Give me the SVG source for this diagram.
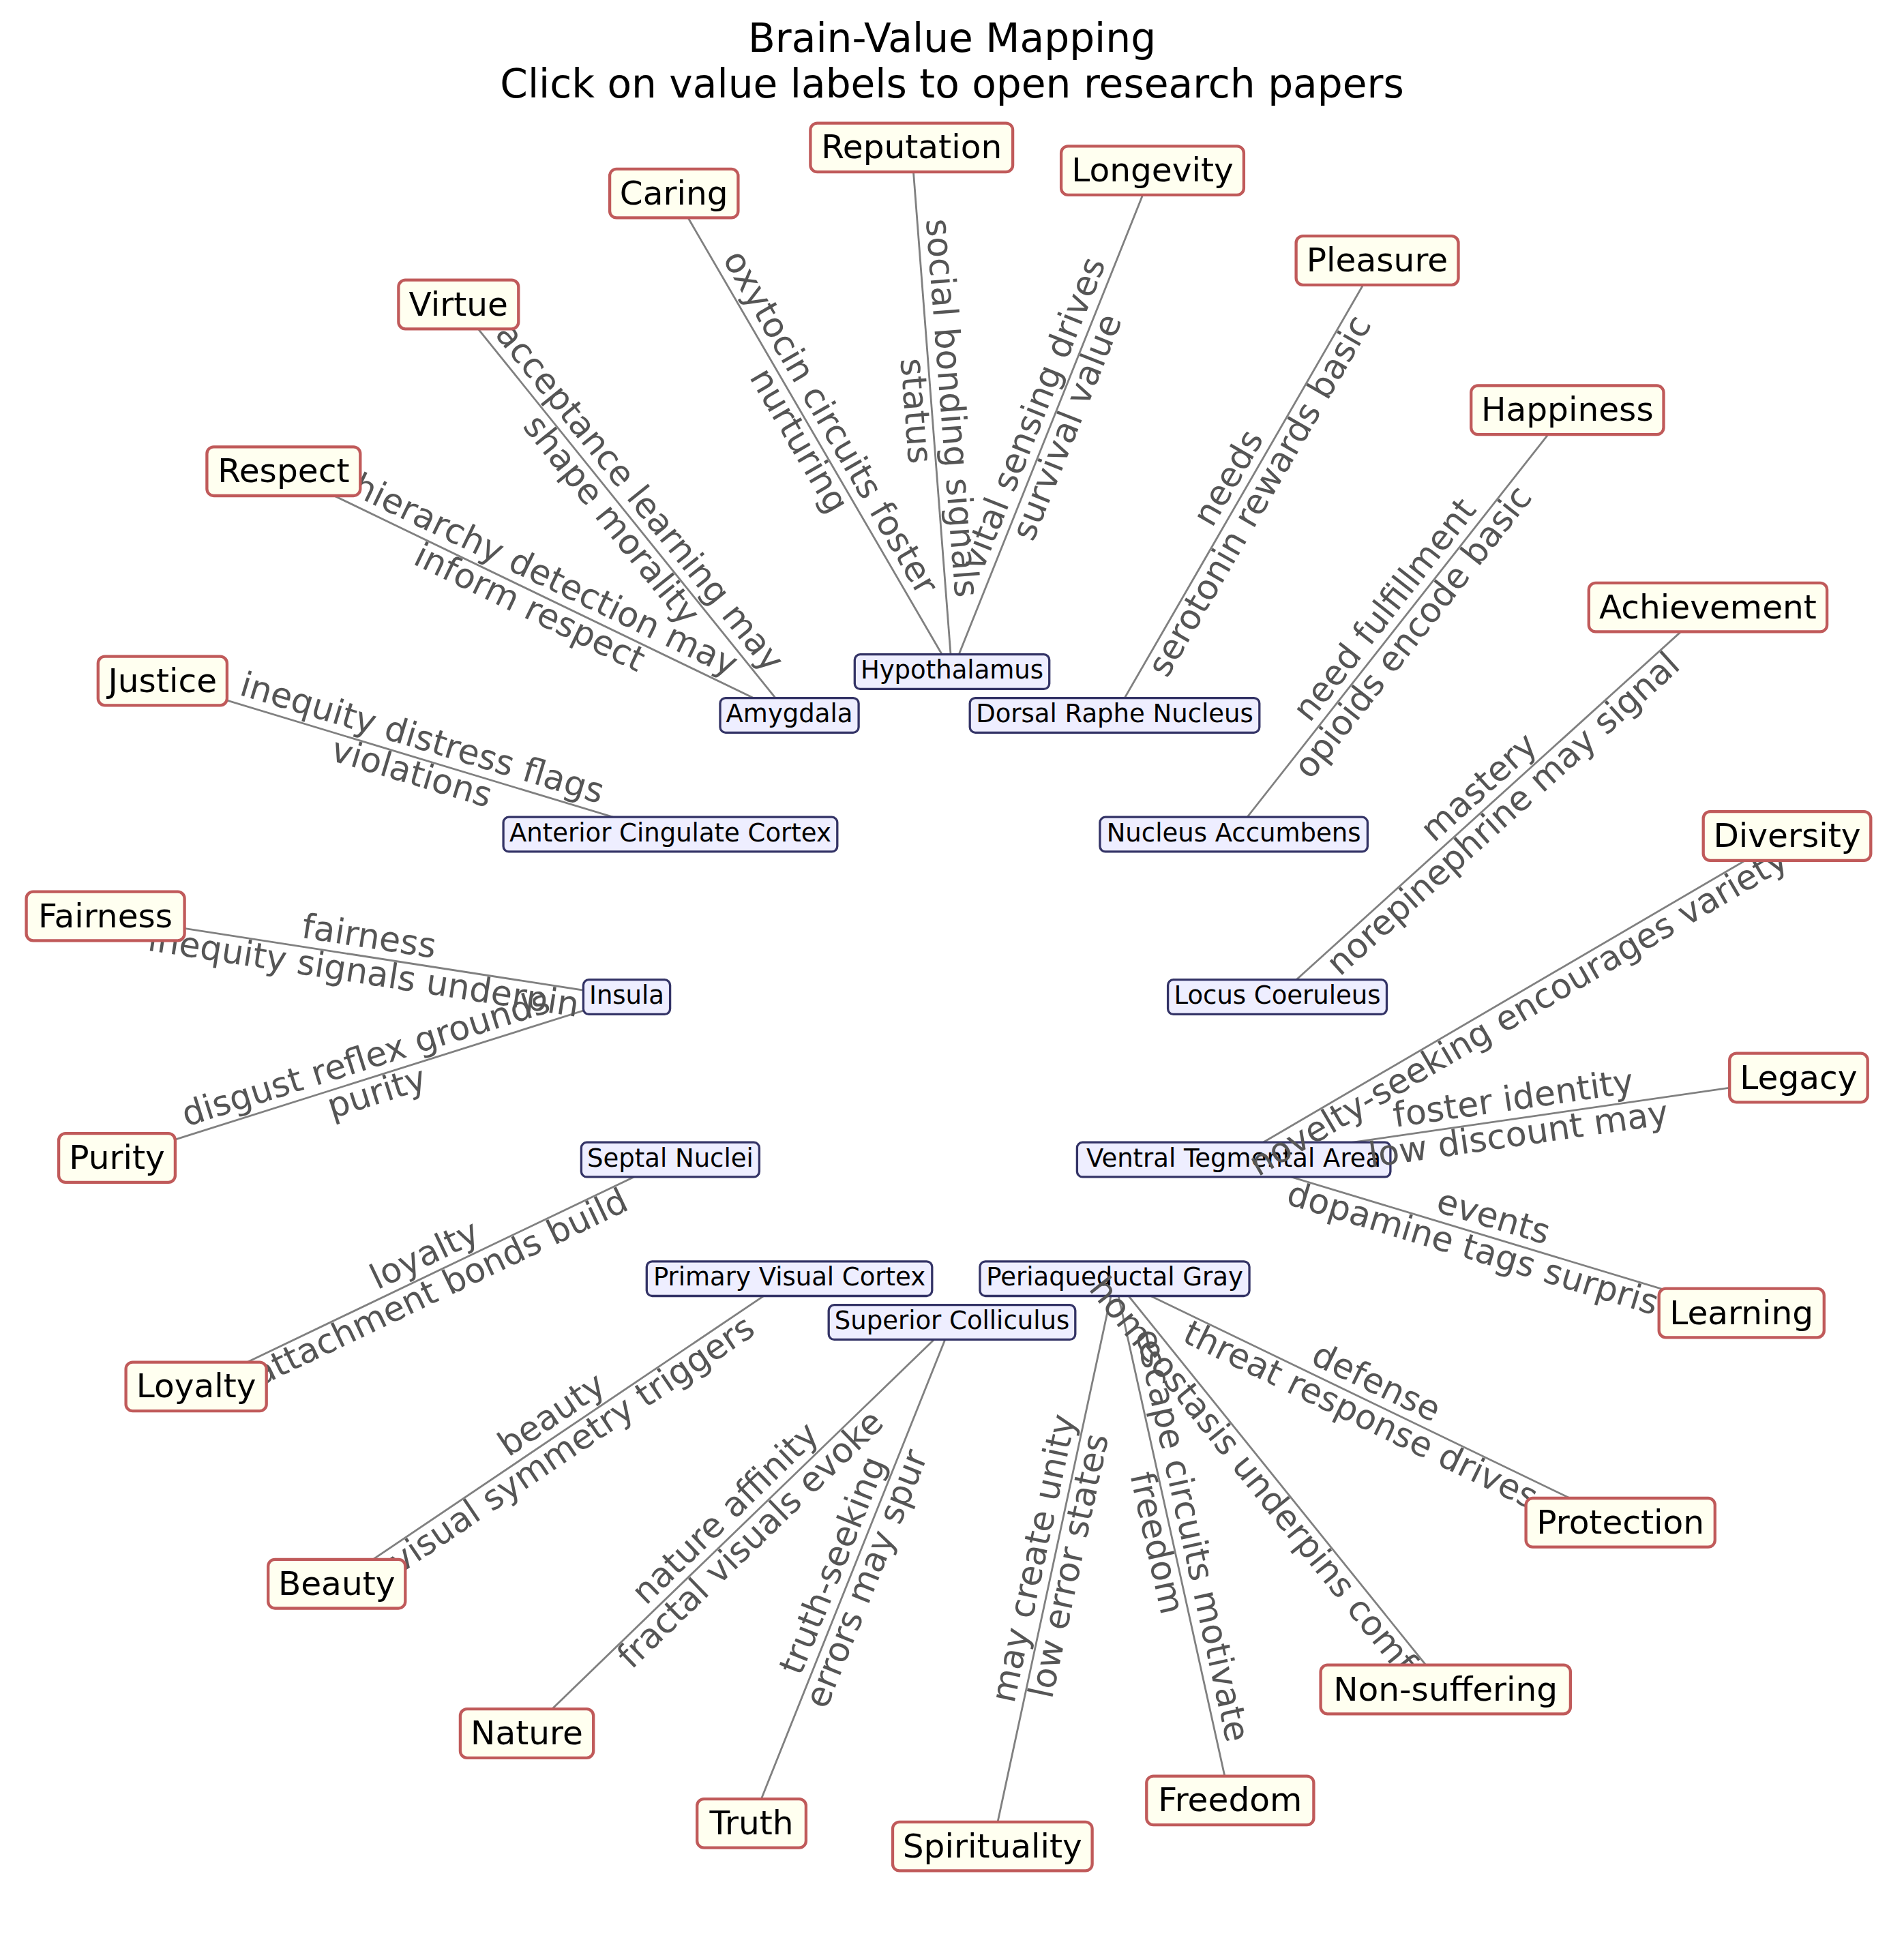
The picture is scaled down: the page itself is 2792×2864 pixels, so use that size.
<svg xmlns="http://www.w3.org/2000/svg" width="2792" height="2864" viewBox="0 0 2792 2864">
<style>
text{font-family:"DejaVu Sans","Liberation Sans",sans-serif;text-anchor:middle}
.title{font-size:58.2px;fill:#000}
.v rect{fill:#fffff0;stroke:#c05a5a;stroke-width:4.3}
.v text{font-size:48.6px;fill:#000}
.b rect{fill:#eeeeff;stroke:#333366;stroke-width:3.3}
.b text{font-size:37px;fill:#000}
#edges line{stroke:#808080;stroke-width:2.8}
#edge-labels text{font-size:50.5px;fill:#555555}
</style>
<rect width="2792" height="2864" fill="#ffffff"/>
<g id="title">
<text class="title" x="1396" y="76">Brain-Value Mapping</text>
<text class="title" x="1396" y="143">Click on value labels to open research papers</text>
</g>
<g id="edges">
<line x1="988.2" y1="283.6" x2="1396" y2="985"/>
<line x1="1336.7" y1="216.4" x2="1396" y2="985"/>
<line x1="1690" y1="250.1" x2="1396" y2="985"/>
<line x1="2019.5" y1="382" x2="1634.5" y2="1048.9"/>
<line x1="2298.3" y1="601.3" x2="1809.1" y2="1223.5"/>
<line x1="2504.4" y1="890.6" x2="1873" y2="1462"/>
<line x1="2620.5" y1="1226" x2="1809.1" y2="1700.5"/>
<line x1="2637.4" y1="1580.5" x2="1809.1" y2="1700.5"/>
<line x1="2553.7" y1="1925.5" x2="1809.1" y2="1700.5"/>
<line x1="2376.2" y1="2232.8" x2="1634.5" y2="1875.1"/>
<line x1="2119.7" y1="2477.5" x2="1634.5" y2="1875.1"/>
<line x1="1803.8" y1="2640.4" x2="1634.5" y2="1875.1"/>
<line x1="1455.3" y1="2707.6" x2="1634.5" y2="1875.1"/>
<line x1="1102" y1="2673.9" x2="1396" y2="1939"/>
<line x1="772.5" y1="2542" x2="1396" y2="1939"/>
<line x1="493.7" y1="2322.7" x2="1157.5" y2="1875.1"/>
<line x1="287.6" y1="2033.4" x2="982.9" y2="1700.5"/>
<line x1="171.5" y1="1698" x2="919" y2="1462"/>
<line x1="154.6" y1="1343.5" x2="919" y2="1462"/>
<line x1="238.3" y1="998.5" x2="982.9" y2="1223.5"/>
<line x1="415.8" y1="691.2" x2="1157.5" y2="1048.9"/>
<line x1="672.3" y1="446.5" x2="1157.5" y2="1048.9"/>
</g>
<g id="brain-nodes">
<g id="hypothalamus" class="b"><rect x="1253.3" y="959.7" width="285.4" height="50.7" rx="8"/><text x="1396" y="995">Hypothalamus</text></g>
<g id="dorsal-raphe-nucleus" class="b"><rect x="1422.2" y="1023.6" width="424.6" height="50.7" rx="8"/><text x="1634.5" y="1058.9">Dorsal Raphe Nucleus</text></g>
<g id="nucleus-accumbens" class="b"><rect x="1612.9" y="1198.2" width="392.5" height="50.7" rx="8"/><text x="1809.1" y="1233.5">Nucleus Accumbens</text></g>
<g id="locus-coeruleus" class="b"><rect x="1712.6" y="1436.7" width="320.9" height="50.7" rx="8"/><text x="1873" y="1472">Locus Coeruleus</text></g>
<g id="ventral-tegmental-area" class="b"><rect x="1579.4" y="1675.2" width="459.5" height="50.7" rx="8"/><text x="1809.1" y="1710.5">Ventral Tegmental Area</text></g>
<g id="periaqueductal-gray" class="b"><rect x="1436.95" y="1849.8" width="395.1" height="50.7" rx="8"/><text x="1634.5" y="1885.1">Periaqueductal Gray</text></g>
<g id="superior-colliculus" class="b"><rect x="1215.2" y="1913.7" width="361.6" height="50.7" rx="8"/><text x="1396" y="1949">Superior Colliculus</text></g>
<g id="primary-visual-cortex" class="b"><rect x="948.3" y="1849.8" width="418.5" height="50.7" rx="8"/><text x="1157.5" y="1885.1">Primary Visual Cortex</text></g>
<g id="septal-nuclei" class="b"><rect x="852.4" y="1675.2" width="261" height="50.7" rx="8"/><text x="982.9" y="1710.5">Septal Nuclei</text></g>
<g id="insula" class="b"><rect x="855.4" y="1436.7" width="127.2" height="50.7" rx="8"/><text x="919" y="1472">Insula</text></g>
<g id="anterior-cingulate-cortex" class="b"><rect x="738.1" y="1198.2" width="489.7" height="50.7" rx="8"/><text x="982.9" y="1233.5">Anterior Cingulate Cortex</text></g>
<g id="amygdala" class="b"><rect x="1056" y="1023.6" width="203.1" height="50.7" rx="8"/><text x="1157.5" y="1058.9">Amygdala</text></g>
</g>
<g id="edge-labels">
<g transform="translate(1192.1,634.3) rotate(59.83)"><text y="-13">oxytocin circuits foster</text><text y="40">nurturing</text></g>
<g transform="translate(1366.4,600.7) rotate(85.59)"><text y="-13">social bonding signals</text><text y="40">status</text></g>
<g transform="translate(1543,617.6) rotate(-68.19)"><text y="-13">vital sensing drives</text><text y="40">survival value</text></g>
<g transform="translate(1827,715.5) rotate(-60)"><text y="-13">needs</text><text y="40">serotonin rewards basic</text></g>
<g transform="translate(2053.7,912.4) rotate(-51.82)"><text y="-13">need fulfillment</text><text y="40">opioids encode basic</text></g>
<g transform="translate(2188.7,1176.3) rotate(-42.14)"><text y="-13">mastery</text><text y="40">norepinephrine may signal</text></g>
<g transform="translate(2214.8,1463.3) rotate(-30.32)"><text y="40">novelty-seeking encourages variety</text></g>
<g transform="translate(2223.3,1640.5) rotate(-8.24)"><text y="-13">foster identity</text><text y="40">low discount may</text></g>
<g transform="translate(2181.4,1813) rotate(16.81)"><text y="-13">events</text><text y="40">dopamine tags surprise</text></g>
<g transform="translate(2005.4,2054) rotate(25.75)"><text y="-13">defense</text><text y="40">threat response drives</text></g>
<g transform="translate(1877.1,2176.3) rotate(51.15)"><text y="40">homeostasis underpins comfort</text></g>
<g transform="translate(1719.2,2257.8) rotate(77.53)"><text y="-13">escape circuits motivate</text><text y="40">freedom</text></g>
<g transform="translate(1544.9,2291.4) rotate(-77.85)"><text y="-13">may create unity</text><text y="40">low error states</text></g>
<g transform="translate(1249,2306.5) rotate(-68.19)"><text y="-13">truth-seeking</text><text y="40">errors may spur</text></g>
<g transform="translate(1084.3,2240.5) rotate(-44.04)"><text y="-13">nature affinity</text><text y="40">fractal visuals evoke</text></g>
<g transform="translate(825.6,2098.9) rotate(-34)"><text y="-13">beauty</text><text y="40">visual symmetry triggers</text></g>
<g transform="translate(635.3,1867) rotate(-25.59)"><text y="-13">loyalty</text><text y="40">attachment bonds build</text></g>
<g transform="translate(545.3,1580) rotate(-17.52)"><text y="-13">disgust reflex grounds</text><text y="40">purity</text></g>
<g transform="translate(536.8,1402.8) rotate(8.81)"><text y="-13">fairness</text><text y="40">inequity signals underpin</text></g>
<g transform="translate(610.6,1111) rotate(16.81)"><text y="-13">inequity distress flags</text><text y="40">violations</text></g>
<g transform="translate(786.7,870) rotate(25.75)"><text y="-13">hierarchy detection may</text><text y="40">inform respect</text></g>
<g transform="translate(914.9,747.7) rotate(51.15)"><text y="-13">acceptance learning may</text><text y="40">shape morality</text></g>
</g>
<g id="value-nodes">
<g id="legacy" class="v"><rect x="2536.2" y="1544.7" width="202.5" height="71.6" rx="10"/><text x="2637.4" y="1596.5">Legacy</text></g>
<g id="diversity" class="v"><rect x="2497.7" y="1190.2" width="245.6" height="71.6" rx="10"/><text x="2620.5" y="1242">Diversity</text></g>
<g id="achievement" class="v"><rect x="2329.8" y="854.8" width="349.3" height="71.6" rx="10"/><text x="2504.4" y="906.6">Achievement</text></g>
<g id="happiness" class="v"><rect x="2157.2" y="565.5" width="282.3" height="71.6" rx="10"/><text x="2298.3" y="617.3">Happiness</text></g>
<g id="pleasure" class="v"><rect x="1900.6" y="346.2" width="237.9" height="71.6" rx="10"/><text x="2019.5" y="398">Pleasure</text></g>
<g id="longevity" class="v"><rect x="1556.1" y="214.3" width="267.8" height="71.6" rx="10"/><text x="1690" y="266.1">Longevity</text></g>
<g id="reputation" class="v"><rect x="1188.4" y="180.6" width="296.7" height="71.6" rx="10"/><text x="1336.7" y="232.4">Reputation</text></g>
<g id="caring" class="v"><rect x="894.1" y="247.8" width="188.3" height="71.6" rx="10"/><text x="988.2" y="299.6">Caring</text></g>
<g id="virtue" class="v"><rect x="584.4" y="410.7" width="175.9" height="71.6" rx="10"/><text x="672.3" y="462.5">Virtue</text></g>
<g id="respect" class="v"><rect x="303.4" y="655.4" width="224.9" height="71.6" rx="10"/><text x="415.8" y="707.2">Respect</text></g>
<g id="justice" class="v"><rect x="143.8" y="962.7" width="189.1" height="71.6" rx="10"/><text x="238.3" y="1014.5">Justice</text></g>
<g id="fairness" class="v"><rect x="38.6" y="1307.7" width="232" height="71.6" rx="10"/><text x="154.6" y="1359.5">Fairness</text></g>
<g id="purity" class="v"><rect x="86.1" y="1662.2" width="170.8" height="71.6" rx="10"/><text x="171.5" y="1714">Purity</text></g>
<g id="loyalty" class="v"><rect x="184.6" y="1997.6" width="206.1" height="71.6" rx="10"/><text x="287.6" y="2049.4">Loyalty</text></g>
<g id="beauty" class="v"><rect x="393.2" y="2286.9" width="201.1" height="71.6" rx="10"/><text x="493.7" y="2338.7">Beauty</text></g>
<g id="nature" class="v"><rect x="674.9" y="2506.2" width="195.3" height="71.6" rx="10"/><text x="772.5" y="2558">Nature</text></g>
<g id="truth" class="v"><rect x="1022.2" y="2638.1" width="159.7" height="71.6" rx="10"/><text x="1102" y="2689.9">Truth</text></g>
<g id="spirituality" class="v"><rect x="1309" y="2671.8" width="292.6" height="71.6" rx="10"/><text x="1455.3" y="2723.6">Spirituality</text></g>
<g id="freedom" class="v"><rect x="1681.3" y="2604.6" width="245.1" height="71.6" rx="10"/><text x="1803.8" y="2656.4">Freedom</text></g>
<g id="non-suffering" class="v"><rect x="1936.6" y="2441.7" width="366.3" height="71.6" rx="10"/><text x="2119.7" y="2493.5">Non-suffering</text></g>
<g id="protection" class="v"><rect x="2237.6" y="2197" width="277.2" height="71.6" rx="10"/><text x="2376.2" y="2248.8">Protection</text></g>
<g id="learning" class="v"><rect x="2432.7" y="1889.7" width="242.1" height="71.6" rx="10"/><text x="2553.7" y="1941.5">Learning</text></g>
</g>
</svg>
